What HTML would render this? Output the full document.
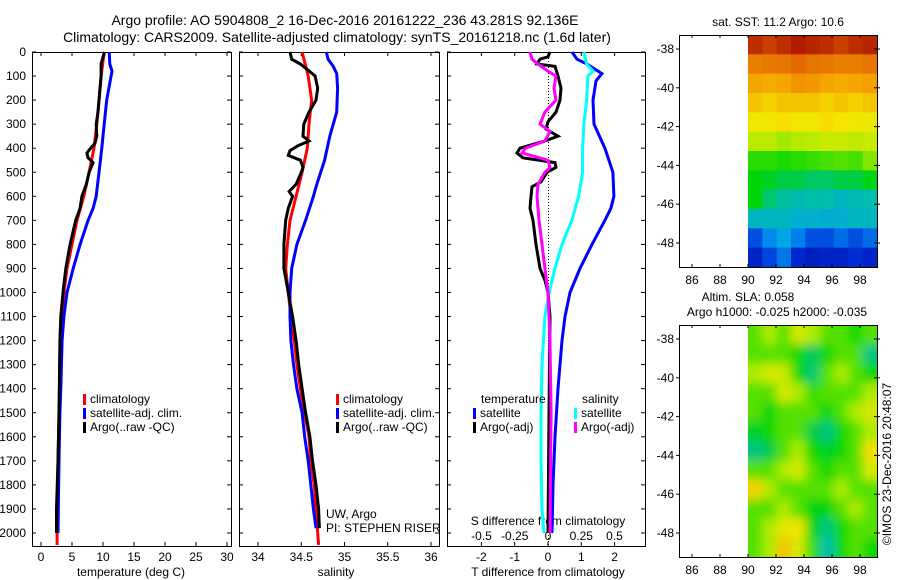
<!DOCTYPE html>
<html><head><meta charset="utf-8"><style>
body{margin:0;background:#fff;}
svg{display:block;font-family:"Liberation Sans",sans-serif;}
text{fill:#000;}
</style></head><body>
<svg id="c" width="900" height="580" viewBox="0 0 900 580">
<g id="g"></g>
</svg>
<script>
// ---------- data ----------
const tempDepthClim = [0,100,200,300,400,500,600,700,800,900,1000,1100,1200,1300,1400,1500,1700,2000,2050];
const tempClim = [10.2,9.7,9.35,9.0,8.55,7.75,6.9,5.8,5.0,4.2,3.7,3.4,3.2,3.05,3.0,2.9,2.75,2.6,2.6];
const tempDepthSat = [0,50,80,100,200,300,400,500,600,650,700,800,900,1000,1100,1200,1400,1500,1700,2000];
const tempSat = [11.0,11.1,11.45,11.3,10.6,10.2,9.8,9.35,8.9,8.4,7.6,6.3,5.2,4.2,3.7,3.4,3.2,3.05,2.9,2.75];
const tempDepthArgo = [0,20,50,100,200,250,300,350,380,400,420,440,460,500,550,600,650,700,800,900,1000,1100,1200,1500,1700,1900,2000];
const tempArgo = [10.3,10.0,9.7,9.7,9.35,9.2,8.9,9.0,8.7,8.0,7.4,7.6,8.4,7.75,7.3,6.6,6.3,5.6,4.7,4.0,3.55,3.2,3.05,2.9,2.75,2.5,2.5];

const salDepthClim = [0,100,200,300,400,500,600,700,800,900,1000,1100,1200,1300,1400,1500,1600,1700,1800,1900,2000,2050];
const salClim = [34.51,34.58,34.62,34.59,34.57,34.51,34.44,34.37,34.34,34.32,34.35,34.38,34.42,34.45,34.49,34.54,34.59,34.61,34.65,34.67,34.69,34.70];
const salDepthSat = [0,30,60,90,150,250,350,450,550,600,700,800,900,1000,1100,1200,1300,1400,1500,1600,1700,1800,1900,1980];
const salSat = [34.79,34.81,34.87,34.91,34.92,34.91,34.83,34.77,34.68,34.64,34.55,34.45,34.39,34.37,34.37,34.38,34.41,34.45,34.51,34.54,34.58,34.61,34.64,34.67];
const salDepthArgo = [0,30,50,70,100,150,200,250,300,350,370,390,410,430,450,480,500,550,580,600,650,700,800,900,1000,1100,1200,1300,1400,1500,1600,1700,1800,1900,1980];
const salArgo = [34.37,34.39,34.49,34.56,34.66,34.69,34.67,34.59,34.53,34.52,34.59,34.46,34.37,34.35,34.49,34.52,34.50,34.44,34.36,34.40,34.35,34.32,34.30,34.30,34.35,34.40,34.44,34.47,34.51,34.55,34.60,34.63,34.67,34.70,34.71];

const dDepthT = [0,30,50,90,120,200,300,400,500,600,650,700,800,900,1000,1100,1200,1400,1600,1800,2000];
const dTSat = [0.72,0.87,1.17,1.62,1.44,1.35,1.38,1.71,1.95,1.98,1.89,1.71,1.32,0.96,0.66,0.51,0.42,0.3,0.21,0.15,0.12];
const dDepthS = [0,50,80,100,200,300,400,500,600,700,800,900,1000,1100,1300,1500,1700,1900,2000];
const dSSat = [0.27,0.29,0.34,0.30,0.29,0.27,0.26,0.26,0.23,0.18,0.105,0.053,0.008,-0.023,-0.045,-0.053,-0.053,-0.045,-0.03];
const dDepthArgo = [0,20,30,50,60,100,150,200,250,290,320,350,370,400,420,440,460,480,500,540,560,600,650,700,800,900,950,1000,1100,1500,2000];
const dTArgo = [0.06,0,-0.24,-0.33,0.21,0.3,0.39,0.36,0.24,0,-0.06,0.3,-0.09,-0.84,-0.93,-0.75,0.21,0.24,-0.03,-0.21,-0.48,-0.51,-0.54,-0.45,-0.36,-0.24,-0.09,0,0.06,0.03,0];
const dDepthSArgo = [0,30,50,80,100,150,200,250,300,330,370,400,420,450,480,500,550,600,700,800,900,1000,1200,1500,2000];
const dSArgo = [-0.135,-0.12,-0.075,0,0.06,0.045,0.06,-0.023,-0.06,0.015,-0.023,-0.17,-0.195,0,0.015,-0.023,-0.075,-0.083,-0.068,-0.045,-0.023,0,0.015,0.023,0.015];

const depthTicks = [0,100,200,300,400,500,600,700,800,900,1000,1100,1200,1300,1400,1500,1600,1700,1800,1900,2000];
const tempTicks = [0,5,10,15,20,25,30];
const salTicks = [34,34.5,35,35.5,36];
const dTTicks = [-2,-1,0,1,2];
const dSTicks = [-0.5,-0.25,0,0.25,0.5];
const dSTickLabels = ["-0.5","-0.25","0","0.25","0.5"];
const lonTicks = [86,88,90,92,94,96,98];
const latTicks = [-38,-40,-42,-44,-46,-48];

const sstGrid = [
[0.95,0.93,0.95,0.97,0.96,0.95,0.93,0.95,0.96],
[0.84,0.85,0.86,0.88,0.86,0.85,0.84,0.84,0.86],
[0.77,0.76,0.77,0.80,0.79,0.77,0.76,0.77,0.78],
[0.72,0.70,0.72,0.72,0.72,0.70,0.72,0.70,0.72],
[0.66,0.66,0.68,0.66,0.66,0.68,0.67,0.66,0.65],
[0.58,0.58,0.55,0.57,0.58,0.60,0.60,0.59,0.60],
[0.47,0.47,0.46,0.47,0.48,0.49,0.50,0.49,0.53],
[0.44,0.42,0.40,0.40,0.38,0.38,0.40,0.40,0.43],
[0.44,0.37,0.34,0.32,0.33,0.33,0.30,0.32,0.33],
[0.30,0.30,0.30,0.28,0.28,0.27,0.28,0.30,0.30],
[0.14,0.20,0.24,0.19,0.14,0.14,0.17,0.14,0.17],
[0.08,0.13,0.18,0.09,0.07,0.08,0.08,0.10,0.08]];
const slaGrid = [
[0.50,0.56,0.50,0.62,0.56,0.50,0.50,0.45,0.50],
[0.50,0.50,0.50,0.45,0.38,0.45,0.50,0.50,0.36],
[0.56,0.62,0.60,0.45,0.37,0.50,0.56,0.50,0.45],
[0.50,0.50,0.62,0.56,0.48,0.50,0.50,0.50,0.56],
[0.50,0.44,0.50,0.50,0.50,0.44,0.50,0.56,0.62],
[0.42,0.45,0.50,0.50,0.40,0.36,0.45,0.50,0.56],
[0.36,0.40,0.50,0.56,0.45,0.42,0.45,0.50,0.68],
[0.50,0.50,0.56,0.62,0.50,0.45,0.50,0.50,0.62],
[0.70,0.56,0.50,0.50,0.50,0.50,0.56,0.50,0.50],
[0.50,0.50,0.56,0.50,0.44,0.44,0.50,0.56,0.50],
[0.50,0.56,0.64,0.66,0.44,0.36,0.45,0.50,0.50],
[0.50,0.56,0.72,0.62,0.48,0.33,0.45,0.50,0.45]];

// ---------- helpers ----------
const NS="http://www.w3.org/2000/svg";
const G=document.getElementById('g');
function el(tag,attrs,parent){const e=document.createElementNS(NS,tag);for(const k in attrs)e.setAttribute(k,attrs[k]);(parent||G).appendChild(e);return e;}
function txt(x,y,s,anchor,size,parent){const t=el('text',{x:x,y:y,'text-anchor':anchor||'start','font-size':size||12},parent);t.textContent=s;return t;}
const yD=d=>52+d*0.2405;
const xT=t=>41+t*6.2;
const xS=s=>258+(s-34)*86.5;
const xdT=t=>548+t*33.3;
const xdS=s=>548+s*133;
const lonX=l=>692+(l-86)*14;
function latY(top){return l=>top+14+(-38-l)*19.4;}

function line(xs,ds,xf,color,name,w){
  let p='';
  for(let i=0;i<xs.length;i++){p+=(i?'L':'M')+xf(xs[i]).toFixed(1)+' '+yD(ds[i]).toFixed(1);}
  const e=el('path',{d:p,fill:'none',stroke:color,'stroke-width':w||3,'stroke-linejoin':'miter'});
  
  
}
function panel(x0,x1,name){
  const r=el('rect',{x:x0+0.5,y:52.5,width:x1-x0,height:494,fill:'none',stroke:'#000','stroke-width':1});
  
  
}

// titles
const t1=txt(345,25,"Argo profile: AO 5904808_2 16-Dec-2016 20161222_236 43.281S 92.136E",'middle',14);


const t2=txt(337,42,"Climatology: CARS2009. Satellite-adjusted climatology: synTS_20161218.nc (1.6d later)",'middle',14);



// panels
panel(32,231,'temperature-panel');
panel(239,439,'salinity-panel');
panel(447,645,'difference-panel');

// depth ticks
depthTicks.forEach(d=>{
  const y=yD(d);
  const lb=txt(26,y+4,String(d),'end',12);
  
  
  [[32,36],[227,231],[239,243],[435,439],[447,451],[641,645]].forEach(p=>el('line',{x1:p[0],x2:p[1],y1:y,y2:y,stroke:'#000'}));
});
tempTicks.forEach(t=>{const x=xT(t);el('line',{x1:x,x2:x,y1:52,y2:56,stroke:'#000'});el('line',{x1:x,x2:x,y1:542,y2:546,stroke:'#000'});
  const l=txt(x,561,String(t),'middle',12);});
salTicks.forEach(s=>{const x=xS(s);el('line',{x1:x,x2:x,y1:52,y2:56,stroke:'#000'});el('line',{x1:x,x2:x,y1:542,y2:546,stroke:'#000'});
  const l=txt(x,561,String(s),'middle',12);});
dTTicks.forEach(t=>{const x=xdT(t);el('line',{x1:x,x2:x,y1:52,y2:56,stroke:'#000'});el('line',{x1:x,x2:x,y1:542,y2:546,stroke:'#000'});
  const l=txt(x,561,String(t),'middle',12);});
dSTicks.forEach((s,i)=>{const l=txt(xdS(s),540,dSTickLabels[i],'middle',12);});

const ax1=txt(131,576,"temperature (deg C)",'middle',12);
const ax2=txt(336,576,"salinity",'middle',12);
const ax3=txt(548,576,"T difference from climatology",'middle',12);
const ax4=txt(548,525,"S difference from climatology",'middle',12);

el('line',{x1:548.5,x2:548.5,y1:52,y2:546,stroke:'#000','stroke-dasharray':'1,2'});

line(tempClim,tempDepthClim,xT,'#ff0000','temperature-climatology-line');
line(tempSat,tempDepthSat,xT,'#0000ff','temperature-satellite-line');
line(tempArgo,tempDepthArgo,xT,'#000000','temperature-argo-line');
line(salClim,salDepthClim,xS,'#ff0000','salinity-climatology-line');
line(salSat,salDepthSat,xS,'#0000ff','salinity-satellite-line');
line(salArgo,salDepthArgo,xS,'#000000','salinity-argo-line');
line(dTSat,dDepthT,xdT,'#0000ff','dt-satellite-line');
line(dSSat,dDepthS,xdS,'#00ffff','ds-satellite-line');
line(dTArgo,dDepthArgo,xdT,'#000000','dt-argo-line');
line(dSArgo,dDepthSArgo,xdS,'#ff00ff','ds-argo-line');

function leg(x,y,color,label,name){
  const g=el('g',{});
  
  
  el('rect',{x:x,y:y-9,width:3,height:11,fill:color},g);
  txt(x+7,y,label,'start',12,g);
}
leg(83,403,'#ff0000','climatology','legend-climatology');
leg(83,417,'#0000ff','satellite-adj. clim.','legend-satellite-adj');
leg(83,431,'#000000','Argo(..raw -QC)','legend-argo');
leg(336,403,'#ff0000','climatology','legend-climatology-sal');
leg(336,417,'#0000ff','satellite-adj. clim.','legend-satellite-adj-sal');
leg(336,431,'#000000','Argo(..raw -QC)','legend-argo-sal');
const lt=txt(481,403,'temperature','start',12);
const ls=txt(582,403,'salinity','start',12);
leg(473,417,'#0000ff','satellite','legend-t-satellite');
leg(473,431,'#000000','Argo(-adj)','legend-t-argo');
leg(574,417,'#00ffff','satellite','legend-s-satellite');
leg(574,431,'#ff00ff','Argo(-adj)','legend-s-argo');
const pi1=txt(326,518,'UW, Argo','start',12);
const pi2=txt(326,532,'PI: STEPHEN RISER','start',12);

// maps
const stops=[[0,0,140],[0,50,220],[0,160,240],[0,190,170],[0,215,0],[170,235,0],[245,230,0],[245,160,0],[225,100,0],[160,0,0]];
function cmap(v){v=Math.max(0,Math.min(1,v))*(stops.length-1);const i=Math.min(stops.length-2,Math.floor(v)),f=v-i;
  const a=stops[i],b=stops[i+1];return 'rgb('+a.map((c,k)=>Math.round(c+(b[k]-c)*f)).join(',')+')';}
function map(top,grid,name,blur){
  const ly=latY(top);
  const x0=lonX(90),x1=877,y0=top,y1=top+232;
  const defs=el('defs',{});
  const cp=el('clipPath',{id:'cp'+name},defs);el('rect',{x:x0,y:y0,width:x1-x0,height:y1-y0},cp);
  if(blur){const f=el('filter',{id:'bl'+name,x:'-10%',y:'-10%',width:'120%',height:'120%'},defs);el('feGaussianBlur',{stdDeviation:5},f);}
  const g=el('g',{'clip-path':'url(#cp'+name+')'});
  
  
  const inner=el('g',blur?{filter:'url(#bl'+name+')'}:{},g);
  const nr=grid.length,nc=grid[0].length,cw=(x1-x0)/nc,ch=(y1-y0)/nr;
  const pad=blur?12:0;
  grid.forEach((row,r)=>row.forEach((v,c)=>{
    const rc=el('rect',{x:x0+c*cw-(c==0?pad:0),y:y0+r*ch-(r==0?pad:0),width:cw+0.6+(c==0||c==nc-1?pad:0),height:ch+0.6+(r==0||r==nr-1?pad:0),fill:cmap(v)},inner);
    
    
  }));
  const b=el('rect',{x:679.5,y:top+0.5,width:198,height:232,fill:'none',stroke:'#000'});
  
  
  lonTicks.forEach(l=>{const x=lonX(l);el('line',{x1:x,x2:x,y1:top,y2:top+3,stroke:'#000'});el('line',{x1:x,x2:x,y1:y1-3,y2:y1,stroke:'#000'});
    const t=txt(x,y1+17,String(l),'middle',12);});
  latTicks.forEach(l=>{const y=ly(l);el('line',{x1:676,x2:680,y1:y,y2:y,stroke:'#000'});el('line',{x1:874,x2:880,y1:y,y2:y,stroke:'#000'});
    const t=txt(674,y+4,String(l),'end',12);});
}
map(35,sstGrid,'sst-map',false);
map(325,slaGrid,'sla-map',true);
const mt1=txt(778,26,'sat. SST: 11.2 Argo: 10.6','middle',12);
const mt2=txt(748,301,'Altim. SLA: 0.058','middle',12);
const mt3=txt(777,316,'Argo h1000: -0.025 h2000: -0.035','middle',12);
const cr=txt(0,0,'©IMOS 23-Dec-2016 20:48:07','middle',12);
cr.setAttribute('transform','translate(891,464) rotate(-90)');


</script>
</body></html>
